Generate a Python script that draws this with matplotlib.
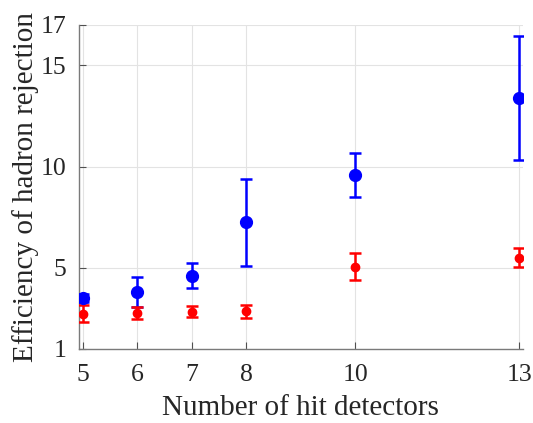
import numpy as np
import matplotlib
matplotlib.use("Agg")
import matplotlib.pyplot as plt

plt.rcParams['font.family'] = ['Liberation Serif', 'DejaVu Serif']
plt.rcParams['mathtext.fontset'] = 'stix'

# data
detectors = [5, 6, 7, 8, 10, 13]
blue_val = [3.53, 3.80, 4.62, 7.26, 9.59, 13.40]
blue_err = [0.20, 0.74, 0.63, 2.15, 1.08, 3.07]
red_val = [2.73, 2.79, 2.83, 2.86, 5.07, 5.51]
red_err = [0.42, 0.30, 0.27, 0.32, 0.68, 0.48]
xticks = [5, 6, 7, 8, 10, 13]
yticks = [1, 5, 10, 15, 17]

fig = plt.figure(figsize=(5.33, 4.23), dpi=100)
ax = fig.add_axes([0.148, 0.175, 0.833, 0.766])

ax.errorbar(detectors, blue_val, yerr=blue_err, fmt='o', color='#0000ff',
            markersize=8.5, elinewidth=1.8, capsize=4, capthick=1.8, zorder=3)
ax.errorbar(detectors, red_val, yerr=red_err, fmt='o', color='#ff0000',
            markersize=6, elinewidth=1.8, capsize=4, capthick=1.8, zorder=3)

ax.set_xlim(4.93, 13.07)
ax.set_ylim(1, 17)
ax.set_xticks(xticks)
ax.set_yticks(yticks)
ax.grid(True, color='#e3e3e3', linewidth=0.8)
ax.set_axisbelow(True)

for s in ['top', 'right']:
    ax.spines[s].set_visible(False)
for s in ['left', 'bottom']:
    ax.spines[s].set_color('#7a7a7a')
    ax.spines[s].set_linewidth(1.0)
ax.tick_params(direction='in', length=5, width=0.8, color='#505050',
               labelsize=18.5, labelcolor='#262626')
ax.tick_params(axis='x', pad=11)
ax.tick_params(axis='y', pad=9)

ax.set_xlabel("Number of hit detectors", fontsize=21, color='#262626', labelpad=6)
ax.set_ylabel("Efficiency of hadron rejection", fontsize=21, color='#262626', labelpad=1)

fig.savefig("out.png", dpi=100)
